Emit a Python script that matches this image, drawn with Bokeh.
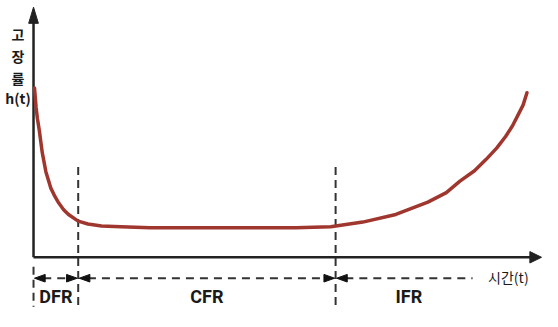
from bokeh.plotting import figure
from bokeh.models import Range1d
from bokeh.core.properties import value
from bokeh.embed import file_html
from bokeh.resources import INLINE

# hazard-rate (bathtub) curve, diagram units: t = time, h = failure rate
t_curve = [1, 2.7, 4, 6, 9, 12.7, 17.7, 22, 26, 31, 36, 46, 56, 70, 90, 120, 170, 220,
           270, 306, 339, 373, 406, 425, 439, 454, 466, 477, 486, 493, 499, 504, 508]
h_curve = [178, 157, 146, 133, 110, 90, 73, 64, 57, 50, 45, 38, 35, 33, 32, 31, 31, 31,
           31, 32, 37, 45, 58, 68, 80, 91, 103, 115, 127, 138, 150, 160, 173]

# phase boundaries on the time axis
boundaries = [0, 46, 311]
phase_end = 462
phase_labels = ["DFR", "CFR", "IFR"]
y_label_lines = ["고", "장", "률", "h(t)"]
x_label = "시간(t)"

t_max = 523      # x-axis arrow tip
h_max = 263      # y-axis arrow tip
row_h = -22      # level of the phase arrows
label_h = -41    # level of phase labels
vline_top = 95
vline_bottom = -52

INK = "#222222"
CURVE = "#a0372f"

p = figure(width=542, height=311, x_range=Range1d(-34, 524), y_range=Range1d(-57, 270),
           output_backend="svg", toolbar_location=None, min_border=0,
           x_axis_location=None, y_axis_location=None, outline_line_color=None,
           background_fill_color="white", border_fill_color="white")
p.grid.visible = False

# axes
p.line([0, t_max - 10], [0, 0], line_color=INK, line_width=2.5)
p.line([0, 0], [0, h_max - 14], line_color=INK, line_width=2.5)
p.patches([[t_max, t_max - 12, t_max - 12], [-5, 0, 5]],
          [[0, 6, -6], [h_max - 17, h_max, h_max - 17]],
          fill_color=INK, line_color=INK, line_width=1)

# dashed phase separators
p.segment(x0=boundaries[1:], y0=[vline_top] * 2, x1=boundaries[1:], y1=[vline_bottom] * 2,
          line_color="#333333", line_width=2, line_dash="8 5")
p.segment(x0=[boundaries[0]], y0=[-10], x1=[boundaries[0]], y1=[vline_bottom],
          line_color="#333333", line_width=2, line_dash="8 5")

# phase arrows
starts = boundaries
ends = boundaries[1:] + [phase_end]
p.segment(x0=[s + 10 for s in starts], y0=[row_h] * 3, x1=[e - 10 for e in ends], y1=[row_h] * 3,
          line_color="#333333", line_width=2, line_dash="8 6")
heads_x, heads_y = [], []
for i, (s, e) in enumerate(zip(starts, ends)):
    tip = s + 1
    heads_x.append([tip, tip + 11, tip + 11])
    heads_y.append([row_h, row_h + 4, row_h - 4])
    if i < 2:
        tip = e - 1
        heads_x.append([tip, tip - 11, tip - 11])
        heads_y.append([row_h, row_h + 4, row_h - 4])
p.patches(heads_x, heads_y, fill_color="#111111", line_color="#111111", line_width=1)

# curve
p.line(t_curve, h_curve, line_color=CURVE, line_width=3.5, line_cap="round", line_join="round")

# labels
p.text(x=[(s + e) / 2 for s, e in zip(starts, ends)], y=[label_h] * 3, text=phase_labels,
       text_font=value("Roboto"), text_font_size="18px", text_font_style="bold",
       text_color="#1a1a1a", text_align="center", text_baseline="middle")
p.text(x=[-16] * 4, y=[235, 212, 188, 168], text=y_label_lines,
       text_font=value("Noto Sans CJK KR"), text_font_size="14px", text_font_style="bold",
       text_color="#1a1a1a", text_align="center", text_baseline="middle")
p.text(x=[468], y=[-21], text=[x_label],
       text_font=value("Noto Sans CJK KR"), text_font_size="14px",
       text_color="#1a1a1a", text_align="left", text_baseline="middle")

open("out.html", "w").write(file_html(p, INLINE))
